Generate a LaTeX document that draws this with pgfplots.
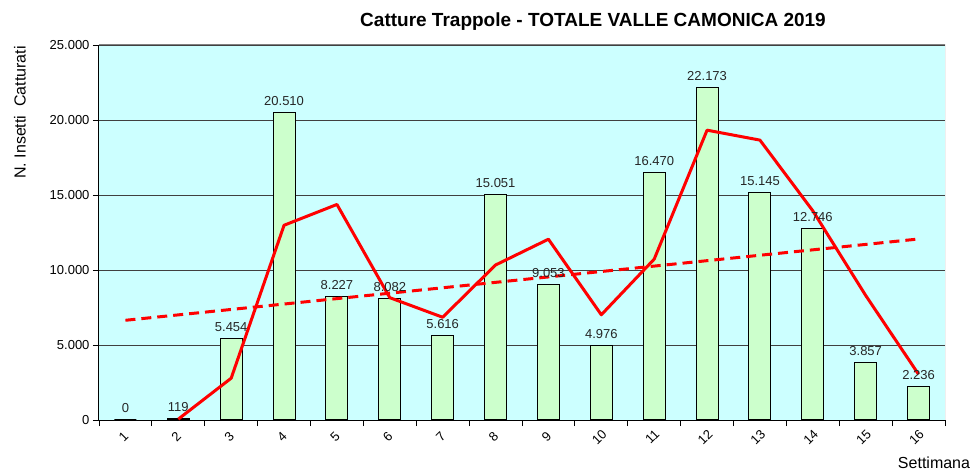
\documentclass[border=0pt]{standalone}
\usepackage{pgfplots}
\pgfplotsset{compat=1.18}
\usepackage{fontspec}
\setmainfont{Liberation Sans}
\definecolor{bgcyan}{RGB}{204,255,255}
\definecolor{bargreen}{RGB}{204,255,204}
\begin{document}
\begin{tikzpicture}[x=1pt,y=1pt]
\useasboundingbox (0,0) rectangle (977,471);
\begin{axis}[
  at={(99pt,51pt)}, anchor=south west,
  scale only axis, width=846pt, height=375pt,
  xmin=0.5, xmax=16.5, ymin=0, ymax=25000,
  axis background/.style={fill=bgcyan},
  axis x line*=bottom, axis y line*=left,
  axis line style={black, line width=1pt},
  tick align=outside,
  major tick length=6pt,
  tick style={black, line width=0.9pt},
  xtick={0.5,1.5,...,16.5},
  xticklabels={},
  extra x ticks={1,2,...,16},
  extra x tick style={major tick length=0pt},
  xticklabel style={yshift=-17pt, xshift=-2pt, rotate=45, anchor=center, font=\fontsize{13}{15}\selectfont},
  ytick={0,5000,...,25000},
  scaled y ticks=false,
  ymajorgrids,
  grid style={black!75, line width=0.8pt},
  yticklabel style={font=\fontsize{13}{15}\selectfont},
  ylabel={N.\ Insetti\ \ Catturati},
  ylabel style={at={(axis description cs:-0.0934,0.82)}, anchor=center, font=\fontsize{16}{18}\selectfont},
  xlabel={Settimana},
  xlabel style={at={(axis description cs:0.987,-0.115)}, anchor=center, font=\fontsize{16}{18}\selectfont},
  /pgf/number format/1000 sep={.},
  /pgf/number format/assume math mode=true,
]
\draw[gray, line width=1pt] (rel axis cs:0,1) -- (rel axis cs:1,1) -- (rel axis cs:1,0);
\addplot[ybar, bar width=22pt, fill=bargreen, draw=black, line width=1.1pt,
  nodes near coords,
  nodes near coords style={font=\fontsize{13}{15}\selectfont, text=black!85, yshift=3pt}]
  coordinates {(1,0)(2,119)(3,5454)(4,20510)(5,8227)(6,8082)(7,5616)(8,15051)
               (9,9053)(10,4976)(11,16470)(12,22173)(13,15145)(14,12746)(15,3857)(16,2236)};
\addplot[red, line width=3pt, mark=none, line join=round]
  coordinates {(2,59.5)(3,2786.5)(4,12982)(5,14368.5)(6,8154.5)(7,6849)(8,10333.5)
               (9,12052)(10,7014.5)(11,10723)(12,19321.5)(13,18659)(14,13945.5)(15,8301.5)(16,3046.5)};
\addplot[red, line width=3pt, mark=none, dash pattern=on 10pt off 6pt]
  coordinates {(1,6647)(16,12067)};
\end{axis}
\node[font=\bfseries\fontsize{19}{22}\selectfont] at (593,449) {Catture Trappole - TOTALE VALLE CAMONICA 2019};
\end{tikzpicture}
\end{document}
